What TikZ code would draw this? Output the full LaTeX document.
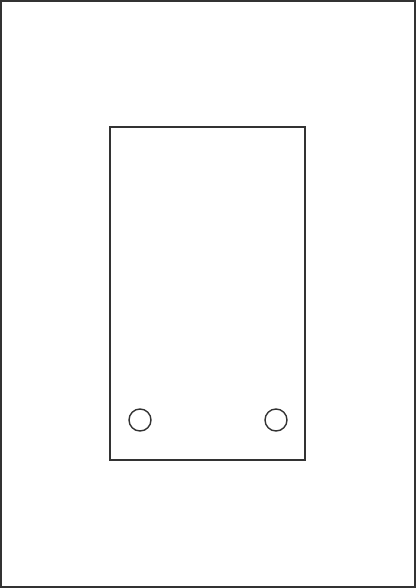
\documentclass[tikz,border=0pt]{standalone}
\usepackage{tikz}
\usetikzlibrary{calc}

\definecolor{plateline}{HTML}{333333}

\begin{document}
\begin{tikzpicture}[x=0.025cm,y=-0.025cm,line width=1pt,draw=plateline]
            \useasboundingbox (0,0) rectangle (416,588);
            % outer sheet
            \draw[plateline] (1,1) rectangle (415,587);
            % inner panel
            \coordinate (panel_tl) at (110,127);
            \coordinate (panel_br) at (305,460);
            \draw[plateline] (panel_tl) rectangle (panel_br);
            % holes
            \coordinate (hole_1) at (140,420);
            \coordinate (hole_2) at (276,420);
            \draw[plateline] (hole_1) circle[radius=11];
            \draw[plateline] (hole_2) circle[radius=11];
          \end{tikzpicture}
\end{document}
